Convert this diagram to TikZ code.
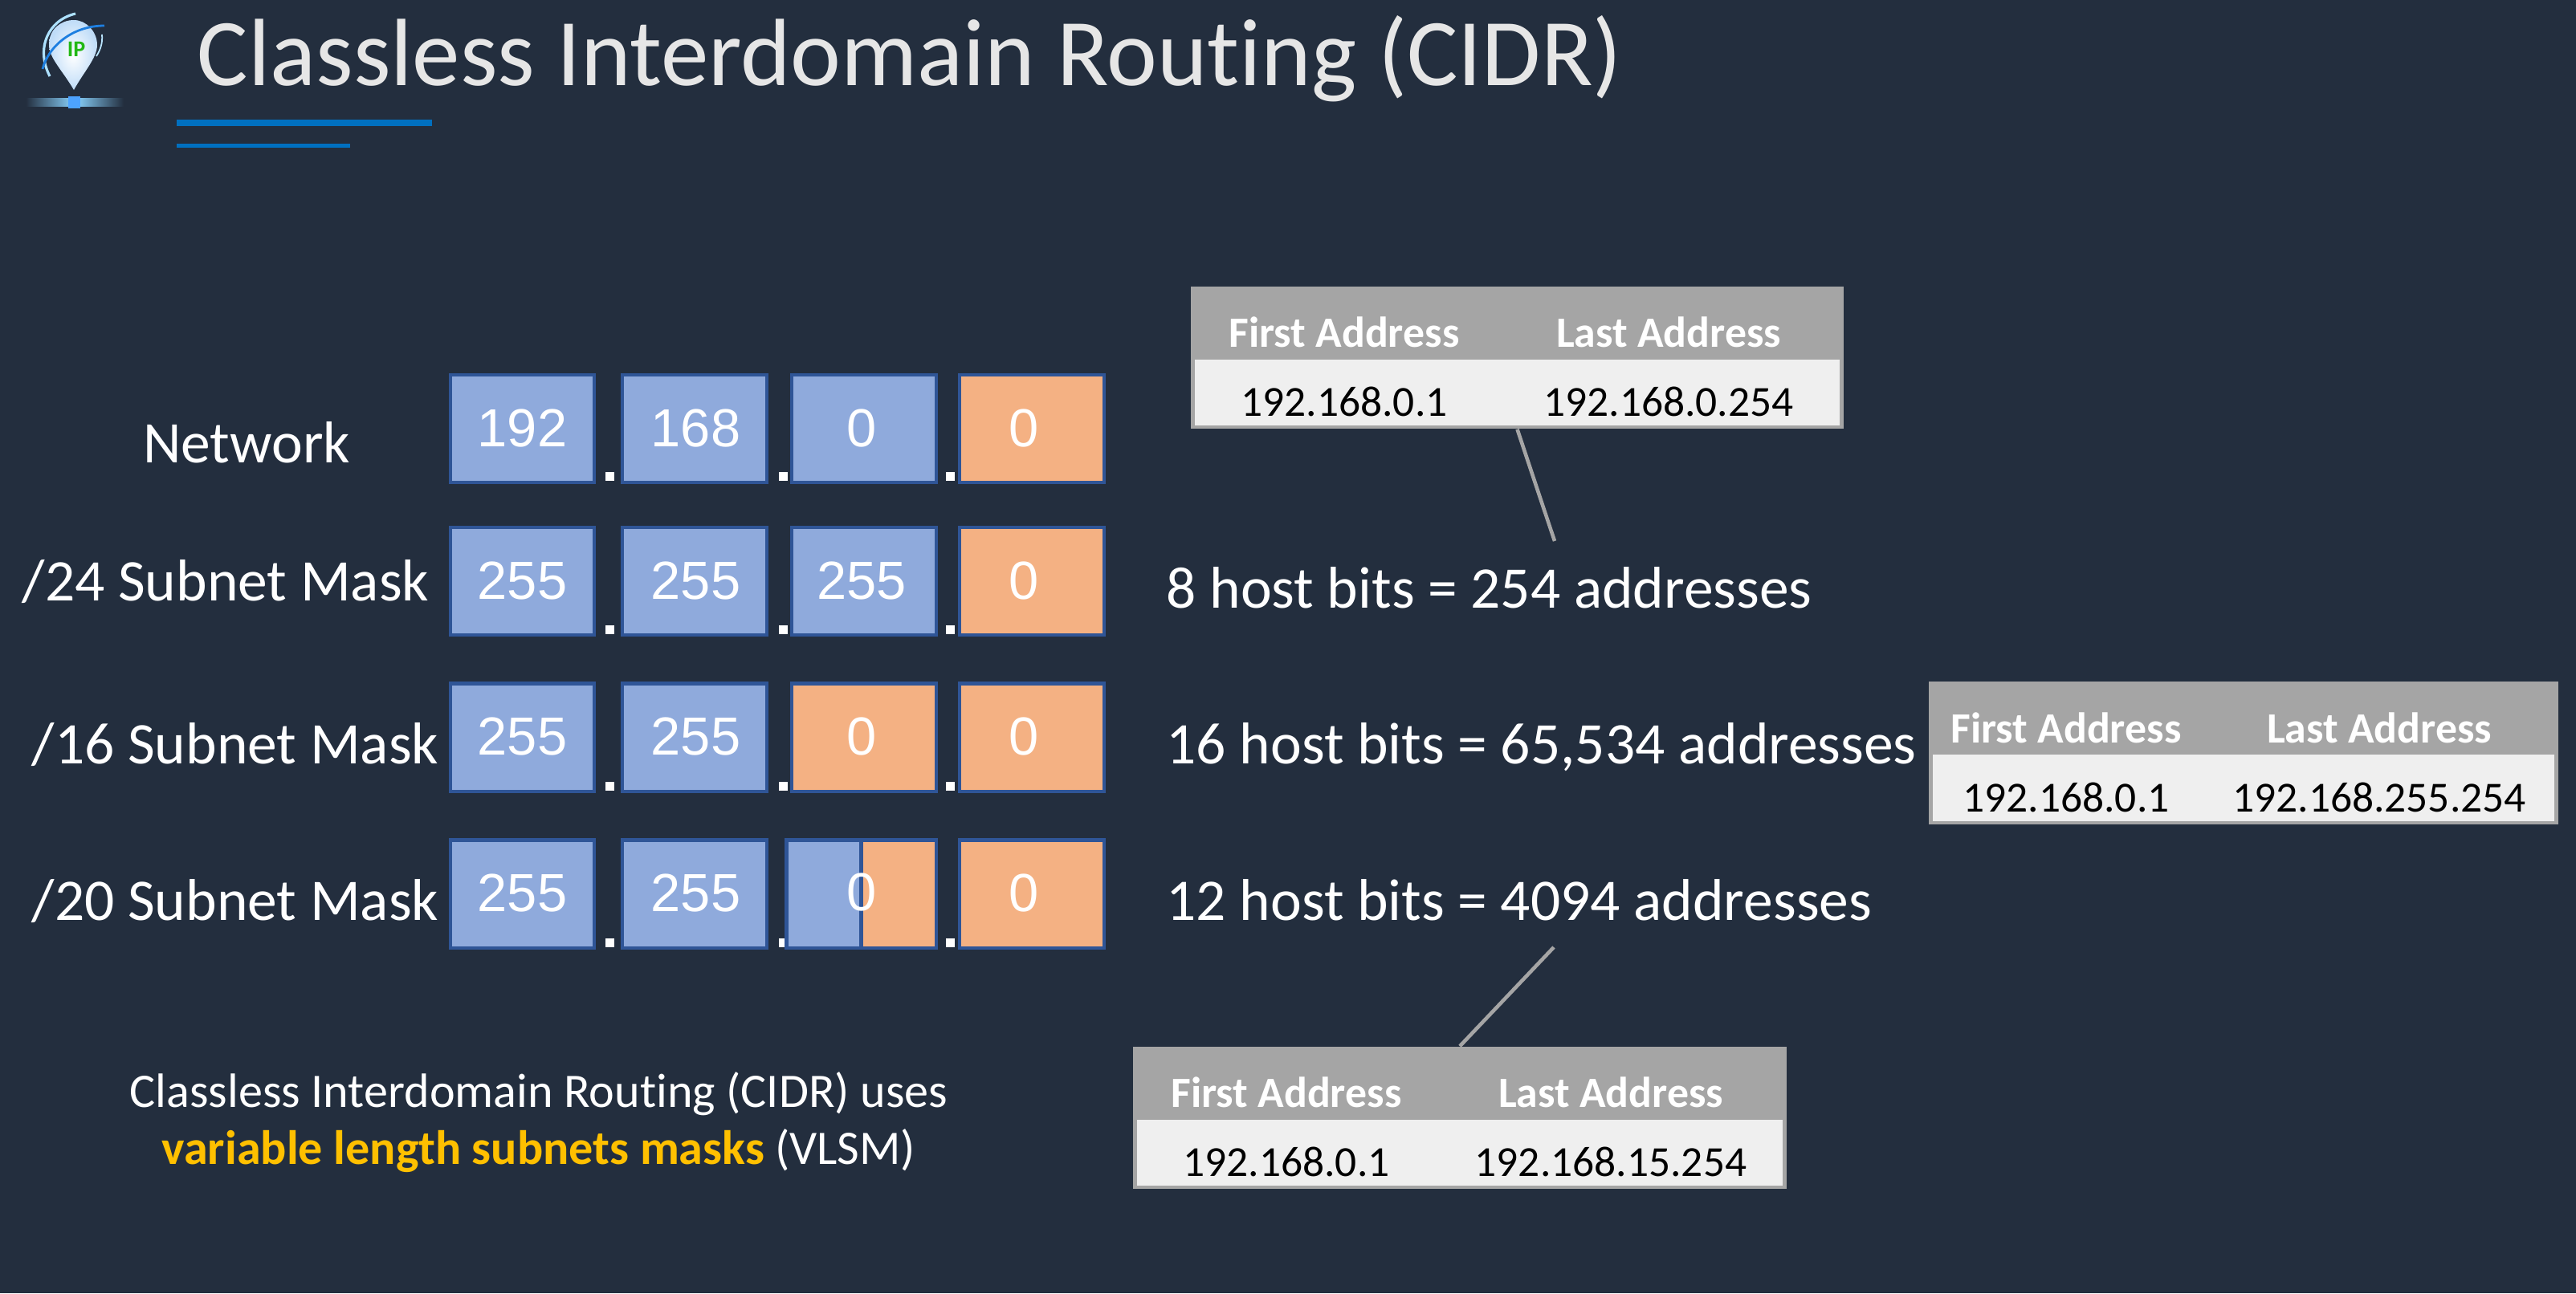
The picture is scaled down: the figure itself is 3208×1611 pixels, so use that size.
\documentclass[tikz,border=0pt]{standalone}
\usepackage{fontspec}
\usepackage{xcolor}
\setmainfont[Ligatures=NoCommon]{Carlito}
\newfontfamily\numfont{Liberation Sans}
\definecolor{cbBack}{HTML}{232E3E}
\definecolor{cbBlue}{HTML}{8FAADC}
\definecolor{cbOrange}{HTML}{F4B183}
\definecolor{cbEdge}{HTML}{2F5597}
\definecolor{cbRule}{HTML}{0070C0}
\definecolor{cbGrey}{HTML}{A5A5A5}
\definecolor{cbLight}{HTML}{EFEFEF}
\definecolor{cbTitle}{HTML}{E6E6E6}
\definecolor{cbGold}{HTML}{FFC000}
\definecolor{cbBar}{HTML}{8AD4FF}
\definecolor{cbKnob}{HTML}{4DA3FF}
\definecolor{cbPin}{HTML}{BFDCF8}
\definecolor{cbSwoosh}{HTML}{1E7FE0}
\definecolor{cbIP}{HTML}{22B814}
\begin{document}
\begin{tikzpicture}[x=0.01cm, y=-0.01cm,
  cell/.style={rectangle,draw=cbEdge,line width=1.15pt,minimum width=1.79cm,minimum height=1.34cm,inner sep=0pt,text=white,font=\numfont\fontsize{19}{19}\selectfont},
  sep/.style={rectangle,fill=white,inner sep=0pt,minimum size=0.11cm},
  lab/.style={text=white,anchor=mid,inner sep=0pt,font=\fontsize{20.9}{20.9}\selectfont},
  tbl/.style={rectangle,fill=cbGrey,minimum height=1.77cm,inner sep=0pt},
  tblbody/.style={rectangle,fill=cbLight,minimum height=0.82cm,inner sep=0pt},
  tblhead/.style={text=white,anchor=mid,inner sep=0pt,font=\bfseries\fontsize{15.3}{15.3}\selectfont},
  tblval/.style={text=black,anchor=mid,inner sep=0pt,font=\fontsize{15.2}{15.2}\selectfont},
  lnk/.style={cbGrey,line width=1.3pt}]
\useasboundingbox (0,0) rectangle (3208,1611);
\fill[cbBack] (0,0) rectangle (3208,1611);
% logo
\draw[cbBar!70,line width=0.9pt] (94,17) .. controls (60,25) and (44,60) .. (62,95);
\draw[cbBar!60,line width=0.5pt] (127,43) .. controls (128,54) and (125,62) .. (120,70);
\shade[left color=cbBack,right color=cbBack,middle color=cbBar] (32,122) rectangle (154,132);
\fill[cbKnob] (85,120) rectangle (100,135);
\shade[inner color=white,outer color=cbPin] (92,112) .. controls (78,88) and (61,72) .. (61,56) .. controls (61,36) and (76,25) .. (92,25) .. controls (108,25) and (121,40) .. (121,56) .. controls (121,72) and (104,90) .. (92,112);
\node[text=cbIP,inner sep=0pt,font=\bfseries\fontsize{8}{8}\selectfont] (ip) at (95,61) {IP};
\draw[cbSwoosh,line width=0.8pt] (53,86) .. controls (60,58) and (90,32) .. (130,32);
% title
\node[text=cbTitle,anchor=mid,inner sep=0pt,font=\fontsize{33.85}{33.85}\selectfont] (title) at (1133,98) {Classless Interdomain Routing (CIDR)};
\fill[cbRule] (220,149) rectangle (538,157);
\fill[cbRule] (220,179) rectangle (436,184);
% rows
\foreach \r/\t/\tx/\ty in {1/Network/307/568,2/{/24 Subnet Mask}/281/740,3/{/16 Subnet Mask}/293/943,4/{/20 Subnet Mask}/293/1138}
  \node[lab] (l\r) at (\tx,\ty) {\t};
\foreach \r/\y/\sy/\va/\vb in {1/534/593/192/168,2/724/784/255/255,3/918.5/979/255/255,4/1113.5/1174/255/255} {
  \node[cell,fill=cbBlue] (b\r1) at (650.5,\y) {\raisebox{0.02cm}{\va}};
  \node[cell,fill=cbBlue] (b\r2) at (865,\y) {\raisebox{0.02cm}{\vb}\kern-0.03cm};
  \node[cell,fill=cbOrange] (b\r4) at (1285,\y) {\raisebox{0.02cm}{0}\kern0.2cm};
  \node[sep] (s\r1) at (759,\sy) {};
  \node[sep] (s\r2) at (975,\sy) {};
  \node[sep] (s\r3) at (1183,\sy) {};
}
\foreach \r/\y/\v/\fc in {1/534/0/cbBlue,2/724/255/cbBlue,3/918.5/0/cbOrange}
  \node[cell,fill=\fc] (b\r3) at (1076,\y) {\raisebox{0.02cm}{\v}\kern0.06cm};
\node[cell,fill=cbBlue,minimum width=0.93cm] (b43a) at (1026,1113.5) {};
\node[cell,fill=cbOrange,minimum width=0.93cm] (b43b) at (1119,1113.5) {};
\node[text=white,inner sep=0pt,font=\numfont\fontsize{19}{19}\selectfont] (b43t) at (1073,1111.5) {0};
% host bits
\node[lab,anchor=mid west] (h1) at (1452,749) {8 host bits = 254 addresses};
\node[lab,anchor=mid west] (h2) at (1452,943) {16 host bits = 65,534 addresses};
\node[lab,anchor=mid west] (h3) at (1452,1138) {12 host bits = 4094 addresses};
% tables
\foreach \n/\x/\y/\w/\xa/\xb/\vb in {A/1889.5/445.5/8.13/1674/2078/192.168.0.254,B/2794/938/7.84/2573/2963/192.168.255.254,C/1818/1392.5/8.13/1602/2006/192.168.15.254} {
  \node[tbl,minimum width=\w cm] (t\n) at (\x,\y) {};
  \node[tblbody,minimum width={(\w-0.1)*1cm}] (v\n) at (\x,{\y+43.5}) {};
  \node[tblhead] (f\n) at (\xa,{\y-21}) {First Address};
  \node[tblhead] (g\n) at (\xb,{\y-21}) {Last Address};
  \node[tblval] (p\n) at (\xa,{\y+65}) {192.168.0.1};
  \node[tblval] (q\n) at (\xb,{\y+65}) {\vb};
}
\coordinate (endA) at (1936,674);
\coordinate (endC) at (1935,1180);
\draw[lnk] (tA.south) -- (endA);
\draw[lnk] (tC.north) -- (endC);
% note
\node[text=white,align=center,inner sep=0pt,font=\fontsize{17.1}{20}\selectfont] (note) at (671,1398) {Classless Interdomain Routing (CIDR) uses\\{\bfseries\color{cbGold}variable length subnets masks} (VLSM)};
\end{tikzpicture}
\end{document}
